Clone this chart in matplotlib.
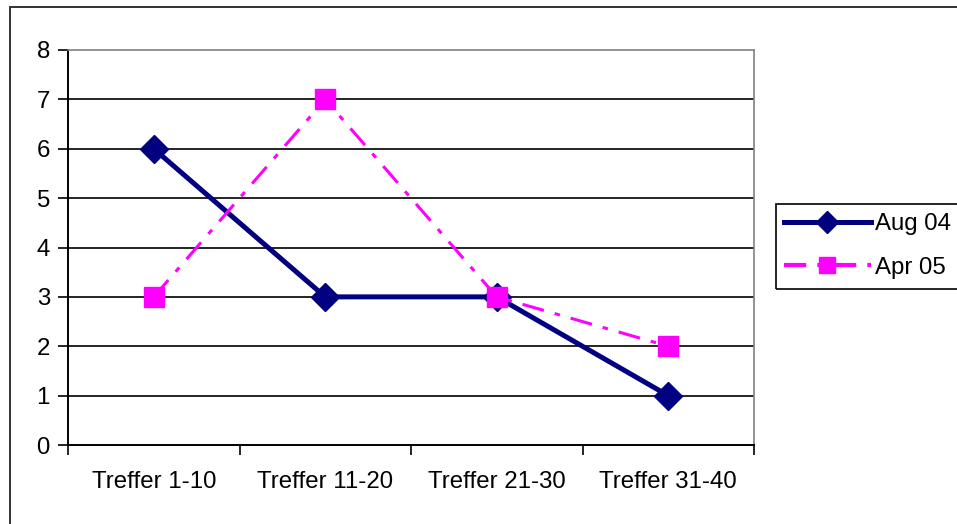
import numpy as np
import matplotlib.pyplot as plt
from matplotlib.patches import Rectangle

categories = ["Treffer 1-10", "Treffer 11-20", "Treffer 21-30", "Treffer 31-40"]
aug04 = [6, 3, 3, 1]
apr05 = [3, 7, 3, 2]

plt.rcParams['font.family'] = ['Liberation Sans', 'DejaVu Sans']
plt.rcParams['lines.scale_dashes'] = False

fig = plt.figure(figsize=(9.57, 5.24), dpi=100)
ax = fig.add_axes([68 / 957, 1 - 445 / 524, 686 / 957, 395 / 524])

x = np.arange(len(categories))
ax.plot(x, aug04, color="#000080", lw=3.6, marker="D", ms=14,
        label="Aug 04", zorder=3)
ax.plot(x, apr05, color="#FF00FF", lw=2.2, marker="s", ms=14,
        dashes=(16, 8, 4, 8), label="Apr 05", zorder=4)

ax.set_xlim(-0.5, 3.5)
ax.set_ylim(0, 8)
ax.set_yticks(range(0, 9))
for y in range(1, 8):
    ax.axhline(y, color="black", lw=1.2, zorder=1)

ax.set_xticks(x)
ax.set_xticklabels(categories)
ax.set_xticks(np.arange(-0.5, 4, 1), minor=True)
ax.tick_params(axis="x", which="major", length=0, pad=19, labelsize=17.3)
ax.tick_params(axis="x", which="minor", length=7, width=1.2, direction="out")
ax.tick_params(axis="y", length=7, width=1.2, direction="out", pad=6,
               labelsize=17.3)

ax.spines["left"].set_linewidth(1.4)
ax.spines["bottom"].set_linewidth(1.4)
ax.spines["top"].set_color("#808080")
ax.spines["right"].set_color("#808080")
ax.spines["top"].set_linewidth(1.2)
ax.spines["right"].set_linewidth(1.2)

# outer chart frame and legend box
fig.patches.append(Rectangle((10 / 957, -0.1), 1.2, 1 - 7 / 524 + 0.1,
                             transform=fig.transFigure, fill=False,
                             edgecolor="#333333", lw=1.4, clip_on=False))
fig.patches.append(Rectangle((776 / 957, 1 - 289 / 524), 0.3, 85 / 524,
                             transform=fig.transFigure, fill=False,
                             edgecolor="black", lw=1.2, clip_on=False))

leg = fig.legend(loc="center left", bbox_to_anchor=(784 / 957, 1 - 246 / 524),
                 frameon=False, fontsize=17.3, handlelength=3.6,
                 handletextpad=0.2, labelspacing=0.9, borderpad=0,
                 borderaxespad=0)
for h in leg.legend_handles:
    h.set_markersize(11)
leg.legend_handles[1].set_linewidth(3)

fig.savefig("out.png", dpi=100)
